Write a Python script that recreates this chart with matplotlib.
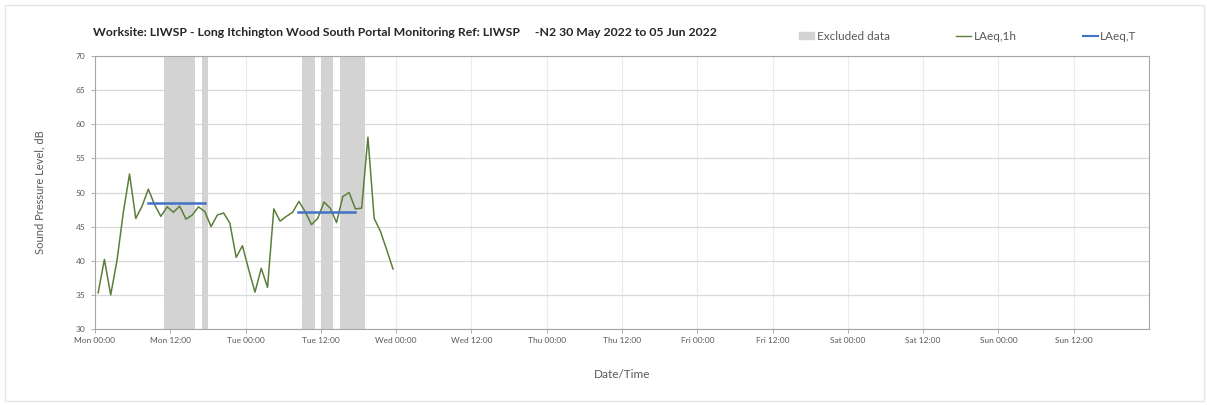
import matplotlib.pyplot as plt
import matplotlib.patches as mpatches
import matplotlib.lines as mlines
import numpy as np

plt.rcParams['font.family'] = ['Lato', 'DejaVu Sans']

# hourly LAeq values, Mon 00:30 onwards (one per hour)
laeq_1h = [35.3, 40.2, 35.0, 40.0, 47.0, 52.7, 46.2, 48.0, 50.5, 48.2,
           46.5, 47.9, 47.1, 48.0, 46.1, 46.7, 47.9, 47.2, 45.0, 46.7,
           47.0, 45.5, 40.5, 42.2, 38.7, 35.4, 38.9, 36.1, 47.6, 45.8,
           46.5, 47.1, 48.7, 47.2, 45.3, 46.2, 48.6, 47.7, 45.6, 49.4,
           50.0, 47.6, 47.7, 58.1, 46.2, 44.3, 41.6, 38.8]
hours = np.arange(len(laeq_1h)) + 0.5

# excluded periods (start hour, end hour)
excluded = [(11, 16), (17, 18), (33, 35), (36, 38), (39, 43)]

# LAeq,T periods (start hour, end hour, level)
laeq_t = [(8.5, 17.6, 48.5), (32.4, 41.5, 47.2)]

tick_labels = ['Mon 00:00', 'Mon 12:00', 'Tue 00:00', 'Tue 12:00', 'Wed 00:00',
               'Wed 12:00', 'Thu 00:00', 'Thu 12:00', 'Fri 00:00', 'Fri 12:00',
               'Sat 00:00', 'Sat 12:00', 'Sun 00:00', 'Sun 12:00']

W, H = 1207, 405
fig = plt.figure(figsize=(W / 100, H / 100), dpi=100)
ax = fig.add_axes([95 / W, 1 - 329 / H, (1149 - 95) / W, (329 - 56) / H])

# outer chart border
fig.patches.append(mpatches.Rectangle((5 / W, 4 / H), 1199 / W, 396 / H,
                                      transform=fig.transFigure, fill=False,
                                      edgecolor='#e6e6e6', linewidth=1))

for s, e in excluded:
    ax.axvspan(s, e, color='#d3d3d3', linewidth=0, zorder=1)

ax.plot(hours, laeq_1h, color='#5b7f3a', linewidth=1.1, zorder=3)
for s, e, v in laeq_t:
    ax.plot([s, e], [v, v], color='#4472c4', linewidth=1.8, zorder=4)

ax.set_xlim(0, 168)
ax.set_ylim(30, 70)
ax.set_xticks(np.arange(len(tick_labels)) * 12)
ax.set_xticklabels(tick_labels)
ax.set_yticks(np.arange(30, 71, 5))
ax.tick_params(axis='both', labelsize=6, colors='#595959', length=3, width=0.6)
ax.tick_params(axis='x', pad=3, color='#a0a0a0')
ax.tick_params(axis='y', pad=4, color='#a0a0a0')
ax.grid(axis='y', color='#d9d9d9', linewidth=0.9, zorder=0)
ax.grid(axis='x', color='#ececec', linewidth=0.8, zorder=0)
ax.set_axisbelow(True)
for sp in ax.spines.values():
    sp.set_color('#a6a6a6')
    sp.set_linewidth(0.8)

ax.set_ylabel('Sound Pressure Level, dB', fontsize=8, color='#595959', labelpad=22)
ax.set_xlabel('Date/Time', fontsize=8.5, color='#595959', labelpad=18)

fig.text(93 / W, 1 - 33 / H, 'Worksite: LIWSP - Long Itchington Wood South Portal Monitoring Ref: LIWSP     -N2 30 May 2022 to 05 Jun 2022',
         fontsize=8.8, fontweight='bold', color='#262626', va='center', ha='left')

handles = [mpatches.Patch(color='#d3d3d3', label='Excluded data'),
           mlines.Line2D([], [], color='#5b7f3a', linewidth=1, label='LAeq,1h'),
           mlines.Line2D([], [], color='#4472c4', linewidth=1.5, label='LAeq,T')]
leg = fig.legend(handles=handles, loc='center left', bbox_to_anchor=(799 / W, 1 - 36 / H),
                 ncol=3, frameon=False, fontsize=8.5, handlelength=1.3, handleheight=0.5,
                 handletextpad=0.2, columnspacing=5.6, borderaxespad=0, borderpad=0)
for t in leg.get_texts():
    t.set_color('#595959')

fig.savefig('out.png', dpi=100)
